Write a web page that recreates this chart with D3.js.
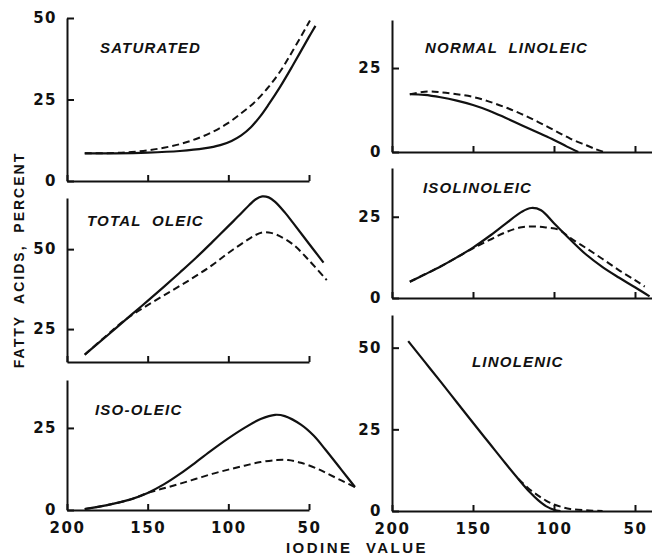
<!DOCTYPE html>
<html>
<head>
<meta charset="utf-8">
<script src="https://cdn.jsdelivr.net/npm/d3@7"></script>
<style>
	body { margin: 0; background: #fff; }
	svg { display: block; }
	.tick text { font-family: "DejaVu Sans", sans-serif; font-weight: bold; font-size: 15px; letter-spacing: 1.5px; fill: #111; }
	.title { font-family: "Liberation Sans", Arial, sans-serif; font-weight: bold; font-style: italic; font-size: 15px; letter-spacing: 1.2px; fill: #111; white-space: pre; }
	.label { font-family: "Liberation Sans", Arial, sans-serif; font-weight: bold; font-size: 14px; fill: #111; white-space: pre; }
</style>
</head>
<body>
<svg id="chart" width="652" height="557"></svg>
<script>
// iodine value on x, percent on y
var iodineTicks = [200, 150, 100, 50];

var saturatedTicks = [0, 25, 50];
var saturatedSolid = [[189,8.5],[170,8.5],[150,8.7],[130,9.2],[115,10],[105,11],[98,12.3],[92,14],[86,16.5],[80,20],[75,23.5],[68,28.8],[60,35.5],[50,44.2],[46,47.6]];
var saturatedDashed = [[189,8.5],[170,8.6],[160,8.9],[150,9.4],[140,10.2],[130,11.3],[120,12.9],[110,15],[101,17.5],[92,20.8],[84.5,23.8],[76,28.3],[68,33.5],[60,40],[49.4,49.2]];

var totalOleicTicks = [25, 50];
var totalOleicSolid = [[189,17],[175,23],[160,29.5],[150,33.8],[140,38.2],[130,42.7],[120,47.3],[110,52.2],[100,57.2],[92,61.2],[87,63.8],[83,65.6],[79,66.5],[75,66.2],[71,64.8],[65,61.5],[60,58.3],[50,51.7],[41,45.8]];
var totalOleicDashed = [[189,17],[175,23.2],[165,27.5],[150,32.5],[135,37],[122,41],[110,45],[100,48.8],[90,52.3],[84,54.2],[79,55.2],[75,55.2],[70,54.5],[60,51.5],[50,46.5],[39,40.3]];

var isoOleicTicks = [0, 25];
var isoOleicSolid = [[189,0.3],[175,1.5],[160,3.3],[150,5.2],[140,7.8],[130,11],[120,14.6],[110,18.3],[100,21.8],[90,25],[80,27.7],[71,29],[65,28.6],[55,26],[47,22.6],[40,18.5],[30,12.3],[21.5,7]];
var isoOleicDashed = [[189,0.3],[175,1.5],[160,3.3],[150,5.2],[140,6.6],[130,8],[120,9.5],[110,11],[100,12.3],[90,13.5],[80,14.6],[70,15.2],[63,15.2],[55,14.4],[45,12.6],[39,11.2],[30,9],[21.5,7]];

var normalLinoleicTicks = [0, 25];
var normalLinoleicSolid = [[189,17.2],[180,17],[170,16.3],[160,15.3],[150,14],[140,12.3],[130,10.2],[120,8],[110,5.8],[100,3.6],[92,1.6],[85,0]];
var normalLinoleicDashed = [[189,17.2],[178,18],[170,17.8],[160,17.2],[150,16.4],[140,15],[130,13.3],[120,11.3],[110,9],[100,6.5],[90,4],[80,2],[74,0.8],[69,0]];

var isolinoleicTicks = [0, 25];
var isolinoleicSolid = [[189,5],[180,7.2],[170,9.7],[160,12.5],[150,15.5],[140,19],[130,22.8],[120,26.5],[114,27.7],[108,27],[100,23],[90,18],[80,13.3],[70,9.5],[60,6.3],[50,3.3],[41,0.5]];
var isolinoleicDashed = [[189,5],[170,9.7],[160,12.5],[150,15.3],[140,17.8],[130,20.2],[120,21.8],[112,22],[105,21.7],[97,21],[90,18.5],[80,15.3],[70,12],[60,8.6],[50,5.5],[44,3.5]];

var linolenicTicks = [0, 25, 50];
var linolenicSolid = [[190,52],[180,45.8],[170,39.6],[160,33.3],[150,27],[140,20.8],[130,14.6],[122,9.8],[115,5.8],[110,3.4],[105,1.5],[100,0.4],[96,0]];
var linolenicDashed = [[122,9.8],[115,6.6],[110,4.8],[105,3.2],[100,2],[95,1.2],[90,0.6],[80,0.2],[70,0]];

var svg = d3.select("#chart");

// one column of panels shares the iodine scale
function Column(axisX, endX, endValue) {
	this.x = d3.scaleLinear().domain([200, endValue]).range([axisX, endX]);
}

function Panel(title, solid, dashed, yTicks, yDomain, top, bottom, titleX, titleY) {
	this.title = title;
	this.solid = solid;
	this.dashed = dashed;
	this.yTicks = yTicks;
	this.y = d3.scaleLinear().domain(yDomain).range([bottom, top]);
	this.titleX = titleX;
	this.titleY = titleY;
}

Panel.prototype.Draw = function(column, showXLabels) {
	var x = column.x, y = this.y;
	var g = svg.append("g");

	var xAxis = d3.axisBottom(x)
		.tickValues(iodineTicks)
		.tickSizeInner(-6)
		.tickSizeOuter(0)
		.tickPadding(12)
		.tickFormat(function(d) { return showXLabels ? d : ""; });
	g.append("g")
		.attr("transform", "translate(0," + y.range()[0] + ")")
		.call(xAxis);

	var yAxis = d3.axisLeft(y)
		.tickValues(this.yTicks)
		.tickSizeInner(-7)
		.tickSizeOuter(0)
		.tickPadding(10);
	g.append("g")
		.attr("transform", "translate(" + x.range()[0] + ",0)")
		.call(yAxis);

	g.selectAll(".domain, .tick line")
		.attr("stroke", "#111")
		.attr("stroke-width", 2);
	g.selectAll(".tick text").attr("font-family", null).attr("font-size", null);

	var line = d3.line()
		.x(function(d) { return x(d[0]); })
		.y(function(d) { return y(d[1]); })
		.curve(d3.curveCatmullRom.alpha(0.5));

	g.append("path")
		.attr("d", line(this.solid))
		.attr("fill", "none")
		.attr("stroke", "#111")
		.attr("stroke-width", 2.2);
	g.append("path")
		.attr("d", line(this.dashed))
		.attr("fill", "none")
		.attr("stroke", "#111")
		.attr("stroke-width", 2)
		.attr("stroke-dasharray", "7,4");

	g.append("text")
		.attr("class", "title")
		.attr("x", this.titleX)
		.attr("y", this.titleY)
		.text(this.title);
}

var leftCol = new Column(67, 309, 50);
var rightCol = new Column(392, 652, 39.5);

new Panel("SATURATED", saturatedSolid, saturatedDashed, saturatedTicks, [0, 50], 18, 181, 100, 53).Draw(leftCol, false);
new Panel("TOTAL  OLEIC", totalOleicSolid, totalOleicDashed, totalOleicTicks, [14.7, 66], 198, 362, 87, 226).Draw(leftCol, false);
new Panel("ISO-OLEIC", isoOleicSolid, isoOleicDashed, isoOleicTicks, [0, 39.6], 380, 510, 95, 415).Draw(leftCol, true);
new Panel("NORMAL  LINOLEIC", normalLinoleicSolid, normalLinoleicDashed, normalLinoleicTicks, [0, 39.3], 20, 152, 425, 53).Draw(rightCol, false);
new Panel("ISOLINOLEIC", isolinoleicSolid, isolinoleicDashed, isolinoleicTicks, [0, 40], 168, 298, 423, 193).Draw(rightCol, false);
new Panel("LINOLENIC", linolenicSolid, linolenicDashed, linolenicTicks, [0, 60], 315, 511, 472, 367).Draw(rightCol, true);

// shared axis titles
svg.append("text")
	.attr("class", "label")
	.attr("transform", "translate(24,260) rotate(-90)")
	.attr("text-anchor", "middle")
	.style("letter-spacing", "2px")
	.text("FATTY  ACIDS,  PERCENT");

svg.append("text")
	.attr("class", "label")
	.attr("x", 357)
	.attr("y", 553)
	.attr("text-anchor", "middle")
	.style("font-size", "15px")
	.style("letter-spacing", "2.5px")
	.text("IODINE  VALUE");
</script>
</body>
</html>
